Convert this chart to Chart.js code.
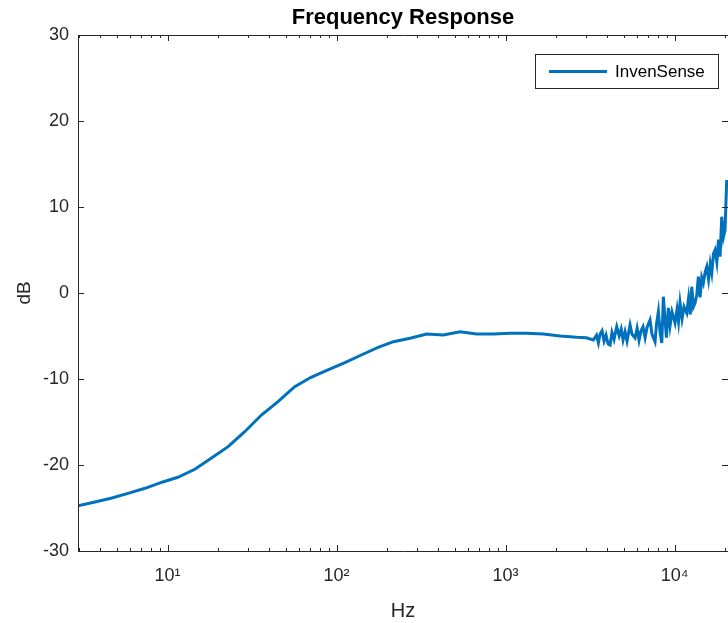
<!DOCTYPE html>
<html>
<head>
<meta charset="utf-8">
<script src="https://cdn.jsdelivr.net/npm/chart.js@4/dist/chart.umd.min.js"></script>
<style>
  html, body { margin: 0; padding: 0; background: #fff; }
  #wrap { width: 728px; height: 623px; position: relative; }
</style>
</head>
<body>
<div id="wrap"><canvas id="c" width="728" height="623"></canvas></div>
<script>
// ---- data ----
const seriesLabel = 'InvenSense';
const freqHz = [2.95, 3.72, 4.62, 5.83, 7.35, 9.27, 11.5, 14.5, 18.1, 22.8, 28.6, 35.9, 45.0, 56.5, 70.6, 88.9,
  112, 140, 176, 217, 272, 341, 428, 537, 674, 846, 1061, 1333, 1672, 2099, 2634, 3000, 3304, 3450, 3540,
  3623, 3722, 3824, 3929, 4037, 4150, 4260, 4380, 4545, 4700, 4830, 4955, 5090, 5230, 5450, 5600, 5836,
  6000, 6160, 6330, 6505, 6690, 6870, 7157, 7350, 7658, 7820, 8017, 8200, 8399, 8578, 8770, 8950, 9184,
  9400, 9650, 10060, 10340, 10550, 10770, 11070, 11370, 11800, 12100, 12380, 12630, 12930, 13210, 13530,
  13820, 14150, 14480, 14800, 15150, 15500, 15880, 16250, 16590, 17000, 17350, 17780, 18190, 18580,
  19010, 19450, 19880, 20340];
const dbValues = [-24.73, -24.3, -23.87, -23.3, -22.71, -22.0, -21.43, -20.5, -19.22, -17.87, -16.13, -14.19,
  -12.64, -10.9, -9.8, -8.95, -8.1, -7.21, -6.31, -5.66, -5.27, -4.77, -4.88, -4.5, -4.77, -4.77, -4.69,
  -4.69, -4.77, -5.0, -5.15, -5.2, -5.47, -4.9, -5.8,
  -4.77, -4.4, -5.6, -4.9, -5.9, -6.05, -4.6, -5.4, -3.92, -5.0, -4.2, -5.47, -4.5, -5.6, -3.72, -4.8, -5.23,
  -4.1, -5.5, -4.4, -3.92, -5.2, -4.0, -3.14, -4.8, -5.66, -3.6, -2.17, -4.5, -5.81, -0.43, -3.0, -5.2, -1.74,
  -3.8, -2.2, -3.49, -1.9, -3.3, -1.16, -3.0, -1.6, -2.33, -0.6, -2.5, 0.73, -1.6, -1.16, -0.2,
  1.9, -0.5, 1.8, 1.16, 2.4, 3.06, 1.6, 3.4, 2.33, 4.6, 5.0, 3.6, 6.2, 4.22,
  8.87, 6.5, 7.33, 13.14];
const xDecades = [10, 100, 1000, 10000];
const xDecadeLabels = ['10\u00B9', '10\u00B2', '10\u00B3', '10\u2074'];
const yTicks = [-30, -20, -10, 0, 10, 20, 30];
const xMin = 2.95, xMax = 20700, yMin = -30, yMax = 30;

const points = freqHz.map((f, i) => ({ x: f, y: dbValues[i] }));
const AX = '#262626';
const LINE = '#0072BD';
const FONT = '"Liberation Sans", Arial, Helvetica, sans-serif';

// box, inward ticks (major + log minor), legend
const matlabAxes = {
  id: 'matlabAxes',
  afterDatasetsDraw(chart) {
    const { ctx, chartArea: a, scales } = chart;
    const xs = scales.x, ys = scales.y;
    ctx.save();
    ctx.strokeStyle = AX;
    ctx.lineWidth = 1;
    ctx.beginPath();
    ctx.rect(Math.round(a.left) + 0.5, Math.round(a.top) + 0.5, a.right - a.left, a.bottom - a.top);
    ctx.stroke();
    ctx.beginPath();
    for (let d = 1; d <= 100000; d *= 10) {
      for (let m = 1; m <= 9; m++) {
        const v = d * m;
        if (v < xMin || v > xMax) continue;
        const px = Math.round(xs.getPixelForValue(v)) + 0.5;
        const len = (m === 1) ? 6 : 3;
        ctx.moveTo(px, a.bottom); ctx.lineTo(px, a.bottom - len);
        ctx.moveTo(px, a.top); ctx.lineTo(px, a.top + len);
      }
    }
    yTicks.forEach(v => {
      const py = Math.round(ys.getPixelForValue(v)) + 0.5;
      ctx.moveTo(a.left, py); ctx.lineTo(a.left + 6, py);
      ctx.moveTo(a.right, py); ctx.lineTo(a.right - 6, py);
    });
    ctx.stroke();

    // legend box
    const ds = chart.data.datasets[0];
    const lx = 535.5, ly = 54.5, lw = 183, lh = 34;
    ctx.fillStyle = '#fff';
    ctx.fillRect(lx, ly, lw, lh);
    ctx.strokeStyle = AX;
    ctx.lineWidth = 1;
    ctx.strokeRect(lx, ly, lw, lh);
    ctx.strokeStyle = ds.borderColor;
    ctx.lineWidth = 3;
    ctx.beginPath();
    ctx.moveTo(549, ly + lh / 2); ctx.lineTo(607, ly + lh / 2);
    ctx.stroke();
    ctx.fillStyle = '#000';
    ctx.font = '17px ' + FONT;
    ctx.textBaseline = 'middle';
    ctx.textAlign = 'left';
    ctx.fillText(ds.label, 615, ly + lh / 2 + 1);
    ctx.restore();
  }
};

new Chart(document.getElementById('c'), {
  type: 'line',
  data: {
    datasets: [{
      label: seriesLabel,
      data: points,
      borderColor: LINE,
      backgroundColor: LINE,
      borderWidth: 3,
      pointRadius: 0,
      tension: 0,
      fill: false
    }]
  },
  options: {
    responsive: false,
    animation: false,
    devicePixelRatio: 1,
    layout: { padding: 0 },
    plugins: {
      legend: { display: false },
      tooltip: { enabled: false },
      title: {
        display: true,
        fullSize: false,
        text: 'Frequency Response',
        color: '#000',
        font: { family: FONT, size: 22, weight: 'bold', lineHeight: 1.2 },
        padding: { top: 5, bottom: 3.6 }
      }
    },
    scales: {
      x: {
        type: 'logarithmic',
        min: xMin, max: xMax,
        afterBuildTicks(scale) { scale.ticks = xDecades.map(v => ({ value: v })); },
        afterFit(scale) { scale.height = 72; },
        ticks: {
          autoSkip: false, maxRotation: 0,
          color: AX,
          font: { family: FONT, size: 18 },
          padding: 14,
          callback(v) { const i = xDecades.indexOf(v); return i >= 0 ? xDecadeLabels[i] : ''; }
        },
        grid: { display: false, drawTicks: false },
        border: { display: false },
        title: {
          display: true, text: 'Hz', color: AX,
          font: { family: FONT, size: 20, lineHeight: 1.2 },
          padding: { top: 0, bottom: 0 }
        }
      },
      y: {
        type: 'linear',
        min: yMin, max: yMax,
        afterBuildTicks(scale) { scale.ticks = yTicks.map(v => ({ value: v })); },
        afterFit(scale) { scale.width = 78; },
        ticks: {
          color: AX,
          font: { family: FONT, size: 18 },
          padding: 9
        },
        grid: { display: false, drawTicks: false },
        border: { display: false },
        title: {
          display: true, text: 'dB', color: AX,
          font: { family: FONT, size: 19, lineHeight: 1.2 },
          padding: { top: 13, bottom: 0 }
        }
      }
    }
  },
  plugins: [matlabAxes]
});
</script>
</body>
</html>
